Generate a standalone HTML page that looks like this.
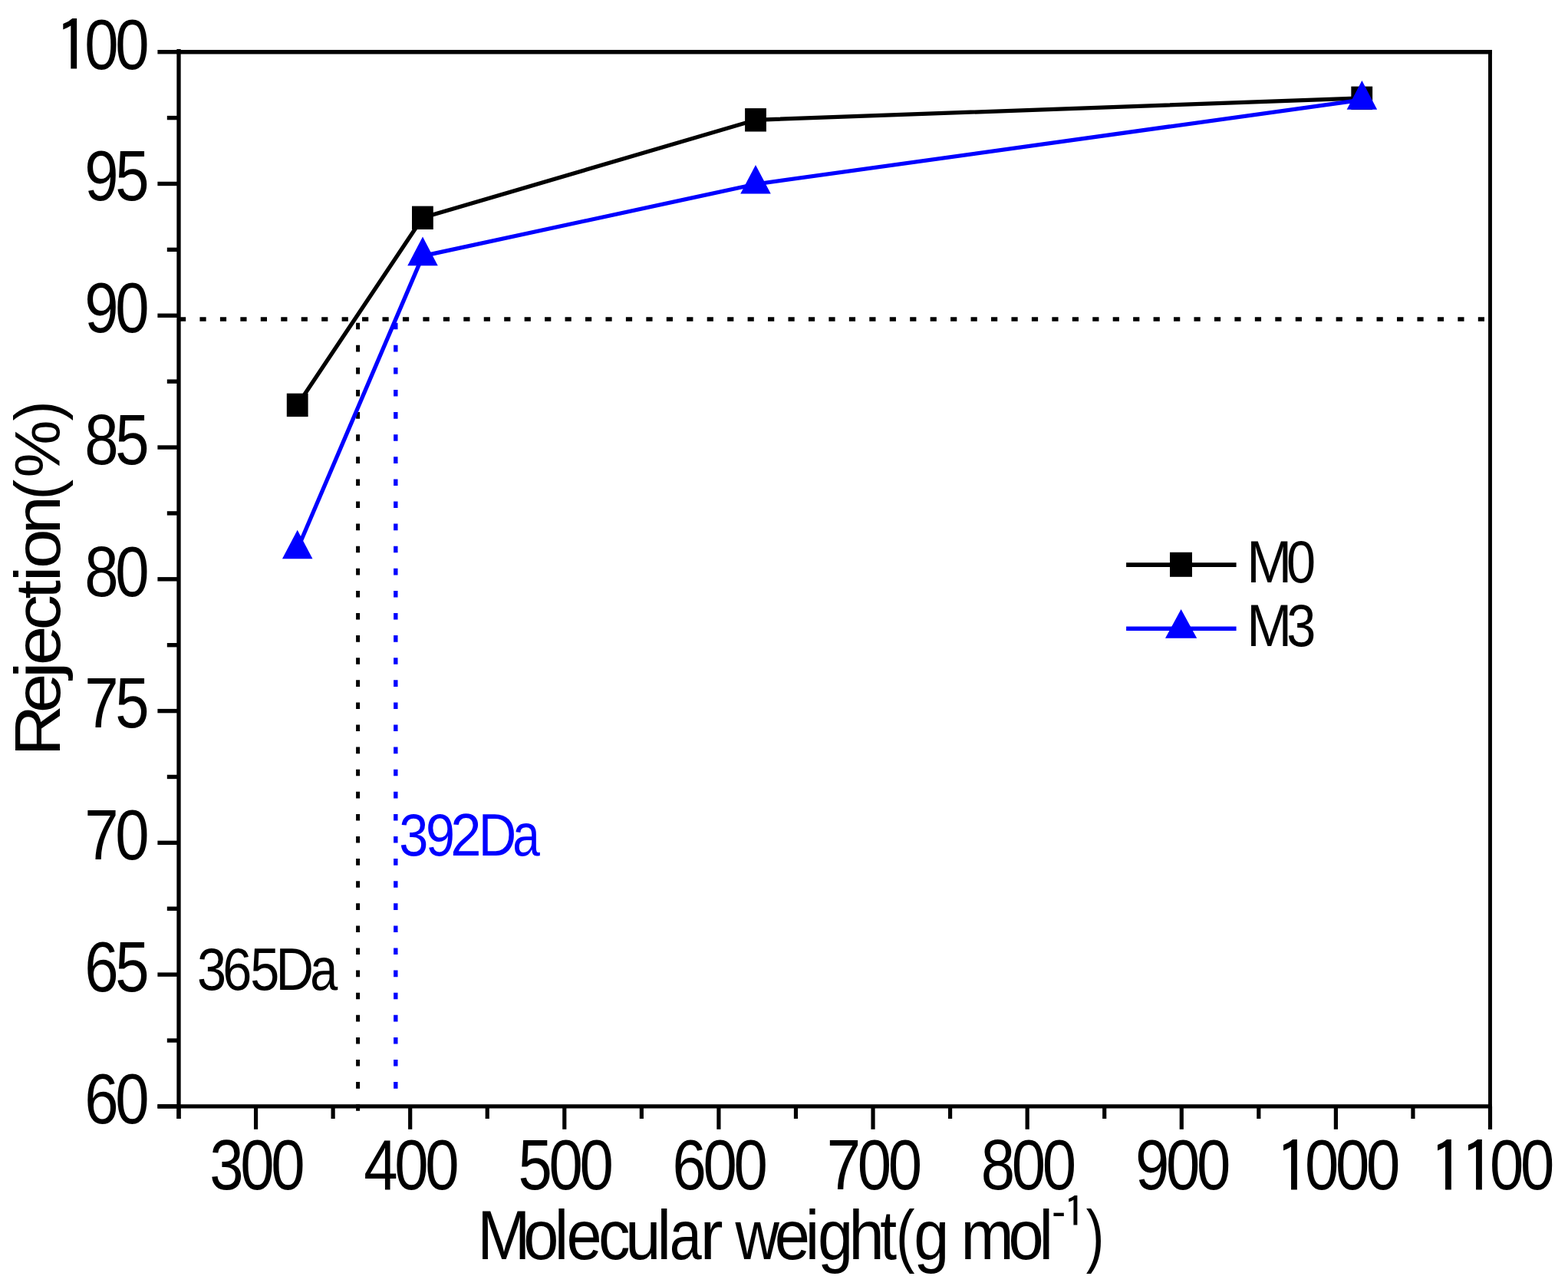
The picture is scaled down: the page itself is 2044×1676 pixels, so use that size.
<!DOCTYPE html>
<html><head><meta charset="utf-8"><title>Rejection vs Molecular weight</title>
<style>html,body{margin:0;padding:0;background:#fff;}svg{display:block;}
text{font-family:'Liberation Sans', Arial, sans-serif;font-kerning:none;font-feature-settings:"kern" 0;white-space:pre;}</style></head>
<body><svg width="2044" height="1676" viewBox="0 0 2044 1676">
<rect width="2044" height="1676" fill="#fff"/>
<line x1="230.35" y1="67.70" x2="1944.90" y2="67.70" stroke="#000" stroke-width="5.6"/>
<line x1="205.4" y1="1441.90" x2="1944.90" y2="1441.90" stroke="#000" stroke-width="5.4"/>
<line x1="233.00" y1="64.0" x2="233.00" y2="1458.0" stroke="#000" stroke-width="5.3"/>
<line x1="1942.50" y1="64.90" x2="1942.50" y2="1471.8" stroke="#000" stroke-width="4.9"/>
<line x1="205.40" y1="1441.90" x2="233.00" y2="1441.90" stroke="#000" stroke-width="5.4"/>
<line x1="217.80" y1="1356.01" x2="233.00" y2="1356.01" stroke="#000" stroke-width="5.4"/>
<line x1="205.40" y1="1270.12" x2="233.00" y2="1270.12" stroke="#000" stroke-width="5.4"/>
<line x1="217.80" y1="1184.24" x2="233.00" y2="1184.24" stroke="#000" stroke-width="5.4"/>
<line x1="205.40" y1="1098.35" x2="233.00" y2="1098.35" stroke="#000" stroke-width="5.4"/>
<line x1="217.80" y1="1012.46" x2="233.00" y2="1012.46" stroke="#000" stroke-width="5.4"/>
<line x1="205.40" y1="926.58" x2="233.00" y2="926.58" stroke="#000" stroke-width="5.4"/>
<line x1="217.80" y1="840.69" x2="233.00" y2="840.69" stroke="#000" stroke-width="5.4"/>
<line x1="205.40" y1="754.80" x2="233.00" y2="754.80" stroke="#000" stroke-width="5.4"/>
<line x1="217.80" y1="668.91" x2="233.00" y2="668.91" stroke="#000" stroke-width="5.4"/>
<line x1="205.40" y1="583.03" x2="233.00" y2="583.03" stroke="#000" stroke-width="5.4"/>
<line x1="217.80" y1="497.14" x2="233.00" y2="497.14" stroke="#000" stroke-width="5.4"/>
<line x1="205.40" y1="411.25" x2="233.00" y2="411.25" stroke="#000" stroke-width="5.4"/>
<line x1="217.80" y1="325.36" x2="233.00" y2="325.36" stroke="#000" stroke-width="5.4"/>
<line x1="205.40" y1="239.48" x2="233.00" y2="239.48" stroke="#000" stroke-width="5.4"/>
<line x1="217.80" y1="153.59" x2="233.00" y2="153.59" stroke="#000" stroke-width="5.4"/>
<line x1="205.40" y1="67.70" x2="233.00" y2="67.70" stroke="#000" stroke-width="5.4"/>
<line x1="233.00" y1="1441.90" x2="233.00" y2="1458.00" stroke="#000" stroke-width="5.2"/>
<line x1="333.56" y1="1441.90" x2="333.56" y2="1471.80" stroke="#000" stroke-width="5.2"/>
<line x1="434.12" y1="1441.90" x2="434.12" y2="1458.00" stroke="#000" stroke-width="5.2"/>
<line x1="534.68" y1="1441.90" x2="534.68" y2="1471.80" stroke="#000" stroke-width="5.2"/>
<line x1="635.24" y1="1441.90" x2="635.24" y2="1458.00" stroke="#000" stroke-width="5.2"/>
<line x1="735.79" y1="1441.90" x2="735.79" y2="1471.80" stroke="#000" stroke-width="5.2"/>
<line x1="836.35" y1="1441.90" x2="836.35" y2="1458.00" stroke="#000" stroke-width="5.2"/>
<line x1="936.91" y1="1441.90" x2="936.91" y2="1471.80" stroke="#000" stroke-width="5.2"/>
<line x1="1037.47" y1="1441.90" x2="1037.47" y2="1458.00" stroke="#000" stroke-width="5.2"/>
<line x1="1138.03" y1="1441.90" x2="1138.03" y2="1471.80" stroke="#000" stroke-width="5.2"/>
<line x1="1238.59" y1="1441.90" x2="1238.59" y2="1458.00" stroke="#000" stroke-width="5.2"/>
<line x1="1339.15" y1="1441.90" x2="1339.15" y2="1471.80" stroke="#000" stroke-width="5.2"/>
<line x1="1439.71" y1="1441.90" x2="1439.71" y2="1458.00" stroke="#000" stroke-width="5.2"/>
<line x1="1540.26" y1="1441.90" x2="1540.26" y2="1471.80" stroke="#000" stroke-width="5.2"/>
<line x1="1640.82" y1="1441.90" x2="1640.82" y2="1458.00" stroke="#000" stroke-width="5.2"/>
<line x1="1741.38" y1="1441.90" x2="1741.38" y2="1471.80" stroke="#000" stroke-width="5.2"/>
<line x1="1841.94" y1="1441.90" x2="1841.94" y2="1458.00" stroke="#000" stroke-width="5.2"/>
<line x1="1942.50" y1="1441.90" x2="1942.50" y2="1471.80" stroke="#000" stroke-width="5.2"/>
<line x1="234" y1="416" x2="1940" y2="416" stroke="#000" stroke-width="5.7" stroke-dasharray="8.2 18.25"/>
<line x1="466.6" y1="420.7" x2="466.6" y2="1447.8" stroke="#000" stroke-width="5.0" stroke-dasharray="8.6 20.5"/>
<line x1="515.8" y1="420.7" x2="515.8" y2="1430" stroke="#0000ff" stroke-width="5.4" stroke-dasharray="8.6 20.5"/>
<polyline points="387.70,527.90 550.90,283.80 985.00,156.30 1775.25,127.85" fill="none" stroke="#000" stroke-width="5.3" stroke-linejoin="miter"/>
<rect x="373.80" y="512.70" width="27.8" height="30.4" fill="#000"/>
<rect x="537.00" y="268.60" width="27.8" height="30.4" fill="#000"/>
<rect x="971.10" y="141.10" width="27.8" height="30.4" fill="#000"/>
<rect x="1761.35" y="112.65" width="27.8" height="30.4" fill="#000"/>
<polyline points="387.70,715.80 551.00,333.60 985.00,240.00 1775.40,130.10" fill="none" stroke="#0000ff" stroke-width="5.3" stroke-linejoin="miter"/>
<polygon points="387.70,690.73 407.45,728.33 367.95,728.33" fill="#0000ff"/>
<polygon points="551.00,308.53 570.75,346.13 531.25,346.13" fill="#0000ff"/>
<polygon points="985.00,214.93 1004.75,252.53 965.25,252.53" fill="#0000ff"/>
<polygon points="1775.40,105.03 1795.15,142.63 1755.65,142.63" fill="#0000ff"/>
<line x1="1468.1" y1="736.1" x2="1611.6" y2="736.1" stroke="#000" stroke-width="5.6"/>
<rect x="1525" y="719.8" width="29" height="32" fill="#000"/>
<line x1="1468.1" y1="819.2" x2="1611.6" y2="819.2" stroke="#0000ff" stroke-width="5.4"/>
<polygon points="1539.60,794.00 1560.20,831.80 1519.00,831.80" fill="#0000ff"/>
<text transform="translate(0,1463.80) scale(0.8542,1)" font-size="93.30" fill="#000"><tspan x="129.17" y="0.00">6</tspan><tspan x="175.99" y="0.00">0</tspan></text>
<text transform="translate(0,1292.03) scale(0.8542,1)" font-size="93.30" fill="#000"><tspan x="129.17" y="0.00">6</tspan><tspan x="175.99" y="0.00">5</tspan></text>
<text transform="translate(0,1120.25) scale(0.8542,1)" font-size="93.30" fill="#000"><tspan x="129.17" y="0.00">7</tspan><tspan x="175.99" y="0.00">0</tspan></text>
<text transform="translate(0,948.48) scale(0.8542,1)" font-size="93.30" fill="#000"><tspan x="129.17" y="0.00">7</tspan><tspan x="175.99" y="0.00">5</tspan></text>
<text transform="translate(0,776.70) scale(0.8542,1)" font-size="93.30" fill="#000"><tspan x="129.17" y="0.00">8</tspan><tspan x="175.99" y="0.00">0</tspan></text>
<text transform="translate(0,604.93) scale(0.8542,1)" font-size="93.30" fill="#000"><tspan x="129.17" y="0.00">8</tspan><tspan x="175.99" y="0.00">5</tspan></text>
<text transform="translate(0,433.15) scale(0.8542,1)" font-size="93.30" fill="#000"><tspan x="129.17" y="0.00">9</tspan><tspan x="175.99" y="0.00">0</tspan></text>
<text transform="translate(0,261.38) scale(0.8542,1)" font-size="93.30" fill="#000"><tspan x="129.17" y="0.00">9</tspan><tspan x="175.99" y="0.00">5</tspan></text>
<text transform="translate(0,89.60) scale(0.8542,1)" font-size="93.30" fill="#000"><tspan x="83.08" y="4.73" font-family="IPAGothic, Liberation Sans, sans-serif" font-size="93.12" textLength="55.87" lengthAdjust="spacingAndGlyphs">1</tspan><tspan x="129.17" y="0.00">0</tspan><tspan x="175.99" y="0.00">0</tspan></text>
<text transform="translate(0,1550.00) scale(0.8542,1)" font-size="93.30" fill="#000"><tspan x="319.87" y="0.00">3</tspan><tspan x="366.70" y="0.00">0</tspan><tspan x="413.52" y="0.00">0</tspan></text>
<text transform="translate(0,1550.00) scale(0.8542,1)" font-size="93.30" fill="#000"><tspan x="555.31" y="0.00">4</tspan><tspan x="602.13" y="0.00">0</tspan><tspan x="648.96" y="0.00">0</tspan></text>
<text transform="translate(0,1550.00) scale(0.8542,1)" font-size="93.30" fill="#000"><tspan x="790.75" y="0.00">5</tspan><tspan x="837.57" y="0.00">0</tspan><tspan x="884.40" y="0.00">0</tspan></text>
<text transform="translate(0,1550.00) scale(0.8542,1)" font-size="93.30" fill="#000"><tspan x="1026.18" y="0.00">6</tspan><tspan x="1073.01" y="0.00">0</tspan><tspan x="1119.83" y="0.00">0</tspan></text>
<text transform="translate(0,1550.00) scale(0.8542,1)" font-size="93.30" fill="#000"><tspan x="1261.62" y="0.00">7</tspan><tspan x="1308.44" y="0.00">0</tspan><tspan x="1355.27" y="0.00">0</tspan></text>
<text transform="translate(0,1550.00) scale(0.8542,1)" font-size="93.30" fill="#000"><tspan x="1497.05" y="0.00">8</tspan><tspan x="1543.88" y="0.00">0</tspan><tspan x="1590.71" y="0.00">0</tspan></text>
<text transform="translate(0,1550.00) scale(0.8542,1)" font-size="93.30" fill="#000"><tspan x="1732.49" y="0.00">9</tspan><tspan x="1779.32" y="0.00">0</tspan><tspan x="1826.14" y="0.00">0</tspan></text>
<text transform="translate(0,1550.00) scale(0.8542,1)" font-size="93.30" fill="#000"><tspan x="1945.26" y="4.73" font-family="IPAGothic, Liberation Sans, sans-serif" font-size="93.12" textLength="55.87" lengthAdjust="spacingAndGlyphs">1</tspan><tspan x="1991.34" y="0.00">0</tspan><tspan x="2038.17" y="0.00">0</tspan><tspan x="2084.99" y="0.00">0</tspan></text>
<text transform="translate(0,1550.00) scale(0.8542,1)" font-size="93.30" fill="#000"><tspan x="2180.69" y="4.73" font-family="IPAGothic, Liberation Sans, sans-serif" font-size="93.12" textLength="55.87" lengthAdjust="spacingAndGlyphs">1</tspan><tspan x="2227.52" y="4.73" font-family="IPAGothic, Liberation Sans, sans-serif" font-size="93.12" textLength="55.87" lengthAdjust="spacingAndGlyphs">1</tspan><tspan x="2273.60" y="0.00">0</tspan><tspan x="2320.43" y="0.00">0</tspan></text>
<text transform="translate(0,1640.70) scale(0.9071,1)" font-size="91.50" fill="#000"><tspan x="686.01" y="0.00">M</tspan><tspan x="752.14" y="0.00">o</tspan><tspan x="796.78" y="0.00">l</tspan><tspan x="814.02" y="0.00">e</tspan><tspan x="860.02" y="0.00">c</tspan><tspan x="898.83" y="0.00">u</tspan><tspan x="944.11" y="0.00">l</tspan><tspan x="962.06" y="0.00" textLength="46.31" lengthAdjust="spacingAndGlyphs">a</tspan><tspan x="1005.84" y="0.00" textLength="33.19" lengthAdjust="spacingAndGlyphs">r</tspan><tspan x="1034.03" y="0.00"> </tspan><tspan x="1056.57" y="0.00" textLength="63.27" lengthAdjust="spacingAndGlyphs">w</tspan><tspan x="1113.10" y="0.00">e</tspan><tspan x="1157.31" y="0.00">i</tspan><tspan x="1175.12" y="0.00">g</tspan><tspan x="1219.80" y="0.00">h</tspan><tspan x="1264.80" y="0.00" textLength="24.11" lengthAdjust="spacingAndGlyphs">t</tspan><tspan x="1287.66" y="0.00" textLength="27.00" lengthAdjust="spacingAndGlyphs">(</tspan><tspan x="1313.25" y="0.00">g</tspan><tspan x="1359.79" y="0.00"> </tspan><tspan x="1380.67" y="0.00">m</tspan><tspan x="1449.25" y="0.00">o</tspan><tspan x="1493.17" y="0.00">l</tspan><tspan x="1511.36" y="-42.50" font-size="55.00" textLength="20.15" lengthAdjust="spacingAndGlyphs">-</tspan><tspan x="1527.87" y="-41.79" font-family="IPAGothic, Liberation Sans, sans-serif" font-size="55.27" textLength="33.16" lengthAdjust="spacingAndGlyphs">1</tspan><tspan x="1560.77" y="0.00" textLength="26.03" lengthAdjust="spacingAndGlyphs">)</tspan></text>
<text transform="translate(77.90,0) rotate(-90) scale(1.1138,1)" font-size="83.50" fill="#000"><tspan x="-885.13" y="0.00">R</tspan><tspan x="-834.26" y="0.00">e</tspan><tspan x="-794.15" y="0.00" textLength="20.37" lengthAdjust="spacingAndGlyphs">j</tspan><tspan x="-778.59" y="0.00">e</tspan><tspan x="-737.54" y="0.00">c</tspan><tspan x="-700.71" y="0.00" textLength="21.88" lengthAdjust="spacingAndGlyphs">t</tspan><tspan x="-680.89" y="0.00">i</tspan><tspan x="-665.27" y="0.00">o</tspan><tspan x="-625.06" y="0.00" textLength="44.90" lengthAdjust="spacingAndGlyphs">n</tspan><tspan x="-584.91" y="0.00" textLength="23.91" lengthAdjust="spacingAndGlyphs">(</tspan><tspan x="-559.01" y="0.00" textLength="67.35" lengthAdjust="spacingAndGlyphs">%</tspan><tspan x="-492.43" y="0.00" textLength="23.46" lengthAdjust="spacingAndGlyphs">)</tspan></text>
<text transform="translate(0,758.80) scale(0.8726,1)" font-size="78.50" fill="#000"><tspan x="1862.46" y="0.00" textLength="67.50" lengthAdjust="spacingAndGlyphs">M</tspan><tspan x="1921.76" y="0.00">0</tspan></text>
<text transform="translate(0,841.80) scale(0.8726,1)" font-size="78.50" fill="#000"><tspan x="1862.46" y="0.00" textLength="67.50" lengthAdjust="spacingAndGlyphs">M</tspan><tspan x="1922.05" y="0.00">3</tspan></text>
<text transform="translate(0,1290.00) scale(0.8726,1)" font-size="78.50" fill="#000"><tspan x="294.64" y="0.00">3</tspan><tspan x="332.76" y="0.00">6</tspan><tspan x="373.96" y="0.00">5</tspan><tspan x="412.03" y="0.00">D</tspan><tspan x="463.26" y="0.00" textLength="41.32" lengthAdjust="spacingAndGlyphs">a</tspan></text>
<text transform="translate(0,1114.90) scale(0.8726,1)" font-size="78.50" fill="#0000ff"><tspan x="596.20" y="0.00">3</tspan><tspan x="636.16" y="0.00">9</tspan><tspan x="673.10" y="0.00" textLength="46.17" lengthAdjust="spacingAndGlyphs">2</tspan><tspan x="714.69" y="0.00">D</tspan><tspan x="765.95" y="0.00" textLength="40.82" lengthAdjust="spacingAndGlyphs">a</tspan></text>
</svg></body></html>
